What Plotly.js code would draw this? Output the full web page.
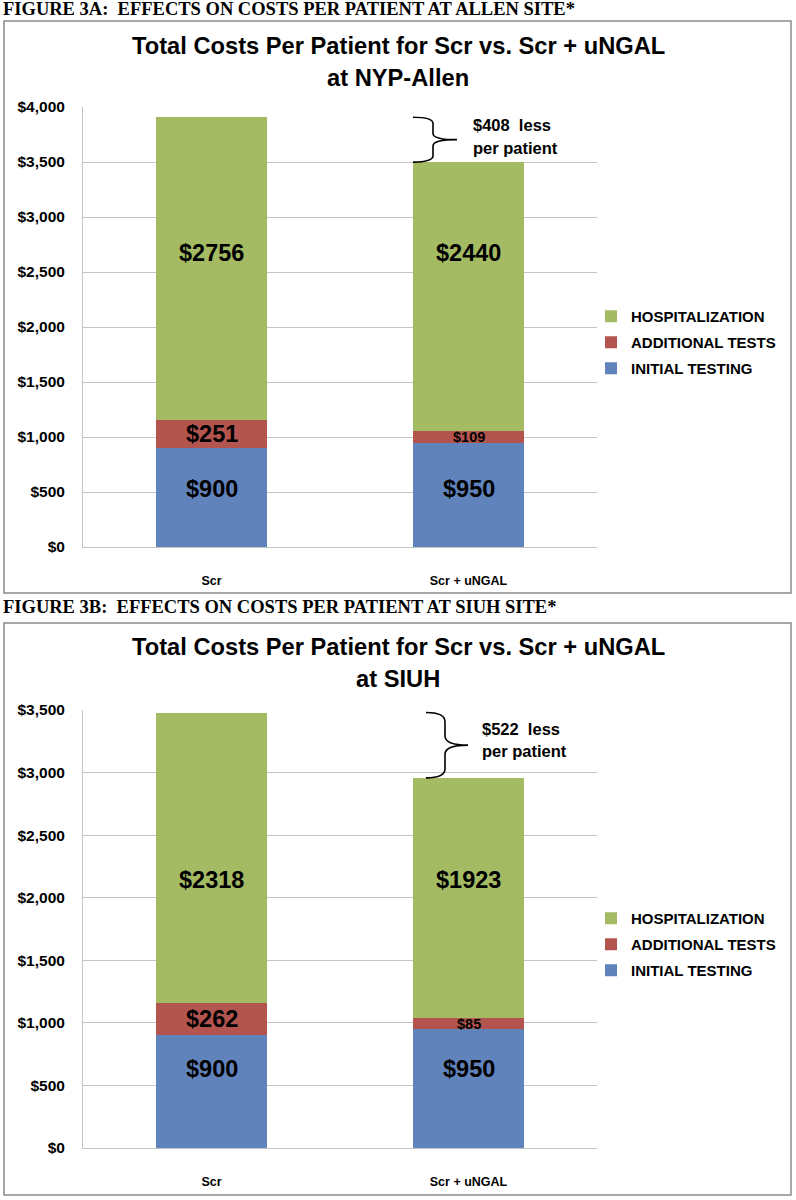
<!DOCTYPE html>
<html>
<head>
<meta charset="utf-8">
<script src="https://cdn.plot.ly/plotly-3.0.1.min.js"></script>
<style>
  html, body { margin: 0; padding: 0; background: #ffffff; }
  #chart { width: 796px; height: 1200px; }
</style>
</head>
<body>
<div id="chart"></div>
<script>
// ---------------- DATA ----------------
const categories = ['Scr', 'Scr + uNGAL'];
const seriesNames = ['INITIAL TESTING', 'ADDITIONAL TESTS', 'HOSPITALIZATION'];

const allenInitial = [900, 950];
const allenAdditional = [251, 109];
const allenHospitalization = [2756, 2440];

const siuhInitial = [900, 950];
const siuhAdditional = [262, 85];
const siuhHospitalization = [2318, 1923];

const headings = [
  'FIGURE 3A:\u00a0 EFFECTS ON COSTS PER PATIENT AT ALLEN SITE*',
  'FIGURE 3B:\u00a0 EFFECTS ON COSTS PER PATIENT AT SIUH SITE*'
];
const chartTitles = ['Total Costs Per Patient for Scr vs. Scr + uNGAL', 'Total Costs Per Patient for Scr vs. Scr + uNGAL'];
const siteLines = ['at NYP-Allen', 'at SIUH'];
const yMax = [4000, 3500];

// ---------------- STYLE ----------------
const W = 796, H = 1200;
const px = x => x / W;
const py = y => 1 - y / H;
const colors = ['#6183BC', '#B3544F', '#A4BA63'];
const SANS = 'Liberation Sans, Arial, sans-serif';
const SERIF = 'Liberation Serif, Times New Roman, serif';
const gridColor = '#C4C4C4';

const frames = [
  { xa: 'x', ya: 'y', leg: 'legend', plotTop: 107, plotBottom: 547, boxTop: 21, boxBottom: 593,
    headingY: 9, titleY: [46, 78], legendTop: 300,
    brace: { x0: 413, x1: 433, x2: 457, text: 471, shifts: [15, -8] },
    hospLabelAt: 2672, initLabelAt: 530 },
  { xa: 'x2', ya: 'y2', leg: 'legend2', plotTop: 710, plotBottom: 1148, boxTop: 623, boxBottom: 1195,
    headingY: 607, titleY: [647, 679], legendTop: 902,
    brace: { x0: 426, x1: 445, x2: 468, text: 480, shifts: [16, -6] },
    hospLabelAt: 2140, initLabelAt: 635 }
];
const plotLeft = 83, plotRight = 597;

const datasets = [
  [allenInitial, allenAdditional, allenHospitalization],
  [siuhInitial, siuhAdditional, siuhHospitalization]
];

const traces = [];
const annotations = [];
const shapes = [];
const layout = {
  width: W, height: H,
  margin: { l: 0, r: 0, t: 0, b: 0 },
  paper_bgcolor: '#ffffff', plot_bgcolor: '#ffffff',
  barmode: 'stack', bargap: 0.565,
  showlegend: true,
  annotations: annotations, shapes: shapes
};

datasets.forEach((ds, c) => {
  const f = frames[c];
  const pxPerUnit = (f.plotBottom - f.plotTop) / yMax[c];
  ds.forEach((vals, s) => {
    traces.push({
      type: 'bar', x: categories, y: vals, name: seriesNames[s],
      xaxis: f.xa, yaxis: f.ya, legend: f.leg, legendgroup: 'g' + c + s,
      legendrank: 10 - s,
      marker: { color: colors[s], line: { width: 0 } },
      hoverinfo: 'skip'
    });
  });
  const axSuffix = c === 0 ? '' : '2';
  layout['xaxis' + axSuffix] = {
    domain: [px(plotLeft), px(plotRight)], anchor: f.ya, type: 'category',
    showgrid: false, zeroline: false, showline: true, linecolor: gridColor, linewidth: 1,
    ticks: '', ticklabelstandoff: 22,
    tickfont: { family: SANS, size: 12.5, color: '#000', weight: 'bold' }, fixedrange: true
  };
  layout['yaxis' + axSuffix] = {
    domain: [py(f.plotBottom), py(f.plotTop)], anchor: f.xa, range: [0, yMax[c]], dtick: 500,
    showgrid: true, gridcolor: gridColor, gridwidth: 1, zeroline: false,
    showline: true, linecolor: gridColor, linewidth: 1,
    ticks: '', tickprefix: '$', tickformat: ',.0f', ticklabelstandoff: 14,
    tickfont: { family: SANS, size: 15.5, color: '#000', weight: 'bold' }, fixedrange: true
  };
  layout[f.leg] = {
    x: px(591), xanchor: 'left', y: py(f.legendTop), yanchor: 'top',
    traceorder: 'grouped', tracegroupgap: 3.5, bgcolor: 'rgba(0,0,0,0)',
    font: { family: SANS, size: 15, color: '#000', weight: 'bold' }
  };

  shapes.push({ type: 'rect', xref: 'paper', yref: 'paper', x0: px(4), x1: px(791),
    y0: py(f.boxBottom), y1: py(f.boxTop), line: { color: '#8C8C8C', width: 1.5 }, fillcolor: 'rgba(0,0,0,0)', layer: 'below' });

  annotations.push({ xref: 'paper', yref: 'paper', x: px(1), y: py(f.headingY), xanchor: 'left', yanchor: 'middle',
    text: headings[c], showarrow: false, font: { family: SERIF, size: 18.5, color: '#000', weight: 'bold' } });
  [chartTitles[c], siteLines[c]].forEach((t, k) => {
    annotations.push({ xref: 'paper', yref: 'paper', x: px(398), y: py(f.titleY[k]), xanchor: 'center', yanchor: 'middle',
      text: t, showarrow: false, font: { family: SANS, size: 23.7, color: '#000', weight: 'bold' } });
  });

  categories.forEach((cat, i) => {
    let base = 0;
    ds.forEach((vals, s) => {
      const v = vals[i];
      const small = v * pxPerUnit < 20;
      let yPos = base + v / 2;
      if (s === 0) yPos = f.initLabelAt;
      if (s === 2) yPos = f.hospLabelAt;
      annotations.push({ xref: f.xa, yref: f.ya, x: cat, y: yPos, xanchor: 'center', yanchor: 'middle',
        text: '$' + v, showarrow: false,
        font: { family: SANS, size: small ? 14.5 : 23.5, color: '#000', weight: 'bold' } });
      base += v;
    });
  });

  const totals = categories.map((_, i) => ds.reduce((a, vals) => a + vals[i], 0));
  const yT = totals[0], yB = totals[1], yM = (yT + yB) / 2, d = (yT - yB) * 0.14;
  const b = f.brace;
  const X0 = px(b.x0), X1 = px(b.x1), X2 = px(b.x2);
  shapes.push({ type: 'path', xref: 'paper', yref: f.ya,
    path: `M${X0},${yT} Q${X1},${yT} ${X1},${yT - d} L${X1},${yM + d} Q${X1},${yM} ${X2},${yM} ` +
          `Q${X1},${yM} ${X1},${yM - d} L${X1},${yB + d} Q${X1},${yB} ${X0},${yB}`,
    line: { color: '#000', width: 1.6 } });
  ['$' + (yT - yB) + '\u00a0 less', 'per patient'].forEach((t, k) => {
    annotations.push({ xref: 'paper', yref: f.ya, x: px(b.text), y: yM, xanchor: 'left', yanchor: 'middle',
      yshift: b.shifts[k], text: t, showarrow: false,
      font: { family: SANS, size: 16.5, color: '#000', weight: 'bold' } });
  });
});

Plotly.newPlot('chart', traces, layout, { staticPlot: true, displayModeBar: false });
</script>
</body>
</html>
